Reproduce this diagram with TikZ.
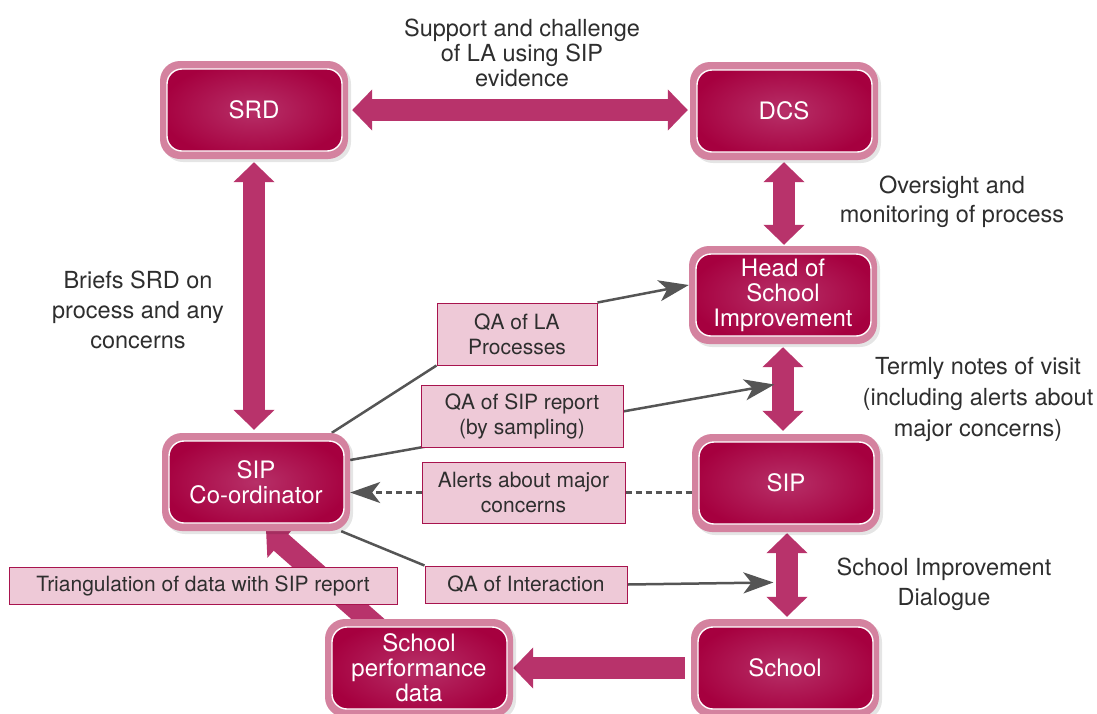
\documentclass[tikz,border=0pt]{standalone}
\usepackage{fontspec}
\setmainfont{TeX Gyre Heros}
\usetikzlibrary{arrows.meta,shadows,calc}
\definecolor{framepink}{HTML}{D4829F}
\definecolor{innerdark}{HTML}{A6003F}
\definecolor{innerlight}{HTML}{B73068}
\definecolor{arrowpink}{HTML}{B8336B}
\definecolor{labfill}{HTML}{EEC9D7}
\definecolor{labborder}{HTML}{A8144E}
\definecolor{linegray}{HTML}{555555}
\definecolor{textgray}{HTML}{2E2E2E}
\pgfdeclarelayer{bg}
\pgfsetlayers{bg,main}
\begin{document}
\begin{tikzpicture}[x=1pt,y=-1pt,
  mainbox/.style={rectangle, rounded corners=20pt, minimum width=188pt, minimum height=98pt, inner sep=0pt,
    fill=framepink, text=white, align=center, font=\fontsize{24}{25}\selectfont,
    drop shadow={shadow xshift=3pt, shadow yshift=-3pt, opacity=0.1, fill=black},
    path picture={\shade[inner color=innerlight, outer color=innerdark, draw=white, line width=1.4pt, rounded corners=15pt]
      ([shift={(7pt,-8pt)}]path picture bounding box.north west) rectangle ([shift={(-6pt,8pt)}]path picture bounding box.south east);}},
  lab/.style={draw=labborder, fill=labfill, line width=1pt, text=textgray, align=center, inner sep=0pt,
    font=\fontsize{21}{25}\selectfont},
  free/.style={text=textgray, align=center, inner sep=0pt},
  fat/.style={draw=arrowpink, line width=22pt, -{Triangle[length=20pt,width=40pt]}},
  fattwo/.style={draw=arrowpink, line width=22pt, {Triangle[length=20pt,width=40pt]}-{Triangle[length=20pt,width=40pt]}},
  conn/.style={draw=linegray, line width=2.5pt, -{Stealth[length=30pt,width=21pt,inset=8pt]}},
  plainline/.style={draw=linegray, line width=2.5pt},
  dashline/.style={draw=linegray, line width=2.5pt, dash pattern=on 6pt off 4pt}
]
\useasboundingbox (0,0) rectangle (1097,713);

% main boxes
\node[mainbox] (srd) at (254,110) {SRD};
\node[mainbox] (dcs) at (784,111) {DCS};
\node[mainbox] (head) at (783,295) {Head of\\School\\Improvement};
\node[mainbox] (sip) at (786,483) {SIP};
\node[mainbox] (sipc) at (256,482) {SIP\\Co-ordinator};
\node[mainbox] (school) at (785,668) {School};
\node[mainbox] (perf) at (419,668) {School\\performance\\data};

% free texts
\node[free, font=\fontsize{23.5}{25}\selectfont] (tsupport) at (522,53) {Support and challenge\\of LA using SIP\\evidence};
\node[free, font=\fontsize{23.5}{29}\selectfont] (toversight) at (952,202) {Oversight and\\monitoring of process};
\node[free, font=\fontsize{23.5}{30}\selectfont] (tbriefs) at (138,310) {Briefs SRD on\\process and any\\concerns};
\node[free, font=\fontsize{23.5}{31}\selectfont] (ttermly) at (978,399) {Termly notes of visit\\(including alerts about\\major concerns)};
\node[free, font=\fontsize{23.5}{30}\selectfont] (tdialogue) at (944,584) {School Improvement\\Dialogue};

% label boxes
\node[lab, minimum width=160pt, minimum height=62pt] (qa1) at (517,334) {QA of LA\\Processes};
\node[lab, minimum width=202pt, minimum height=62pt] (qa2) at (522,416) {QA of SIP report\\(by sampling)};
\node[lab, minimum width=203pt, minimum height=61pt] (alerts) at (523.5,492.5) {Alerts about major\\concerns};
\node[lab, minimum width=202pt, minimum height=37pt] (qa3) at (526,584.5) {QA of Interaction};
\node[lab, minimum width=388pt, minimum height=37pt] (tri) at (203,585.5) {Triangulation of data with SIP report};

\coordinate (t2) at ($(head.south)!0.45!(sip.north)+(-10,0)$);
\coordinate (t3) at ($(sip.south)!0.58!(school.north)+(-12,0)$);

\begin{pgfonlayer}{bg}
\fill[white] (0,0) rectangle (1097,713);
% fat arrows
\draw[fattwo, shorten <=4pt, shorten >=2pt] (srd.east) -- (srd.east -| dcs.west);
\draw[fattwo, shorten <=3pt, shorten >=3pt] (srd.south) -- (srd.south |- sipc.north);
\draw[fattwo, shorten <=2pt, shorten >=1pt] (dcs.south) -- (dcs.south |- head.north);
\draw[fattwo, shorten <=3pt, shorten >=3pt] (head.south) -- (head.south |- sip.north);
\draw[fattwo, shorten <=1pt, shorten >=2pt] ([xshift=1pt]sip.south) -- ([xshift=1pt]sip.south |- school.north);
\draw[fat, shorten <=6pt] (school.west) -- (school.west -| perf.east);
\draw[fat] ([xshift=-40pt,yshift=-10pt]perf.north) -- ([xshift=10pt,yshift=2pt]sipc.south);
% thin connectors
\draw[plainline] (sipc.33) -- (qa1.south west);
\draw[conn] (qa1.north east) -- ([yshift=10pt]head.west);
\draw[conn] ([yshift=22pt]sipc.east) -- (t2);
\draw[dashline] (alerts.east) -- (alerts.east -| sip.west);
\draw[dashline, -{Stealth[length=30pt,width=21pt,inset=8pt]}] (alerts.west) -- (alerts.west -| sipc.east);
\draw[plainline] (sipc.-30) -- (qa3.north west);
\draw[conn] (qa3.east) -- (t3);
\end{pgfonlayer}
\end{tikzpicture}
\end{document}
